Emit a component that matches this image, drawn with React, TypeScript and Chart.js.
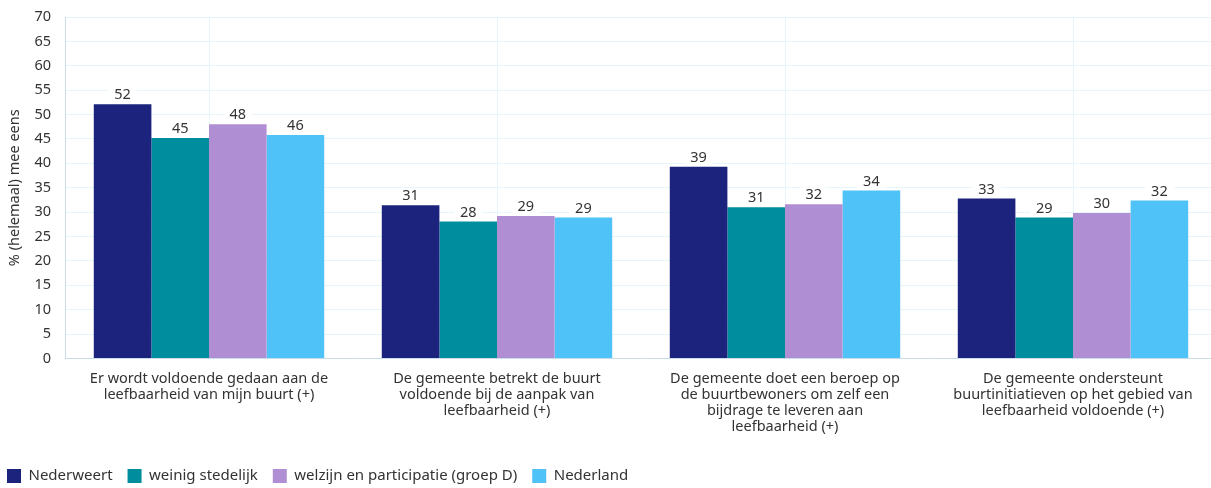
import React, { useEffect, useRef } from "react";
import { Chart, registerables } from "chart.js";

Chart.register(...registerables);

const categories: string[][] = [
  ["Er wordt voldoende gedaan aan de", "leefbaarheid van mijn buurt (+)"],
  ["De gemeente betrekt de buurt", "voldoende bij de aanpak van", "leefbaarheid (+)"],
  ["De gemeente doet een beroep op", "de buurtbewoners om zelf een", "bijdrage te leveren aan", "leefbaarheid (+)"],
  ["De gemeente ondersteunt", "buurtinitiatieven op het gebied van", "leefbaarheid voldoende (+)"],
];

const seriesNames = ["Nederweert", "weinig stedelijk", "welzijn en participatie (groep D)", "Nederland"];
const nederweert = [52.1, 31.4, 39.3, 32.8];
const weinigStedelijk = [45.2, 28.1, 31.0, 28.9];
const welzijn = [48.0, 29.2, 31.6, 29.8];
const nederland = [45.8, 28.9, 34.45, 32.4];
const colors = ["#1b237d", "#008d9e", "#b08ed3", "#4fc3f7"];

const yTitle = "% (helemaal) mee eens";
const FONT = "'Noto Sans', sans-serif";
const FS = 14.5;

const labelPlugin = {
  id: "barLabels",
  afterDatasetsDraw(chart: any) {
    const ctx = chart.ctx;
    ctx.save();
    ctx.font = `${FS}px ${FONT}`;
    ctx.textAlign = "center";
    ctx.textBaseline = "middle";
    chart.data.datasets.forEach((ds: any, i: number) => {
      const meta = chart.getDatasetMeta(i);
      meta.data.forEach((bar: any, j: number) => {
        const txt = String(Math.round(ds.data[j]));
        const w = ctx.measureText(txt).width + 12;
        const cy = bar.y - 9;
        ctx.fillStyle = "#ffffff";
        ctx.fillRect(bar.x - w / 2, cy - 8, w, 16);
        ctx.fillStyle = "#333333";
        ctx.fillText(txt, bar.x, cy);
      });
    });
    ctx.restore();
  },
};

export default function App() {
  const ref = useRef<HTMLCanvasElement>(null);
  useEffect(() => {
    document.body.style.margin = "0";
    const chart = new Chart(ref.current!, {
      type: "bar",
      data: {
        labels: categories,
        datasets: [nederweert, weinigStedelijk, welzijn, nederland].map((d, i) => ({
          label: seriesNames[i],
          data: d,
          backgroundColor: colors[i],
          borderWidth: 0,
          barPercentage: 1,
          categoryPercentage: 0.8,
        })),
      },
      options: {
        animation: false,
        responsive: true,
        maintainAspectRatio: false,
        layout: { padding: { top: 17, right: 0, bottom: -5.5, left: -8 } },
        plugins: {
          tooltip: { enabled: false },
          legend: {
            position: "bottom",
            align: "start",
            labels: {
              boxWidth: 14,
              boxHeight: 14,
              padding: 15,
              color: "#333",
              font: { size: 15, family: FONT },
            },
          },
        },
        scales: {
          x: {
            grid: { offset: false, color: "#e6f5fb", drawTicks: false },
            border: { color: "#c8dde8" },
            ticks: {
              color: "#333",
              font: { size: FS, family: FONT, lineHeight: 1.12 },
              maxRotation: 0,
              autoSkip: false,
              padding: 12,
            },
            afterFit: (s: any) => {
              s.height = 95;
              s.paddingLeft = 0;
              s.paddingRight = 0;
            },
          },
          y: {
            min: 0,
            max: 70,
            grid: { color: "#e6f5fb", drawTicks: false },
            border: { color: "#c8dde8" },
            ticks: {
              stepSize: 5,
              color: "#333",
              font: { size: FS, family: FONT },
              padding: 14,
            },
            title: {
              display: true,
              text: yTitle,
              color: "#333",
              font: { size: FS, family: FONT },
              padding: { top: 14, bottom: 0 },
            },
            afterFit: (s: any) => {
              s.width = 73;
              s.paddingTop = 0;
              s.paddingBottom = 0;
            },
          },
        },
      },
      plugins: [labelPlugin],
    });
    return () => chart.destroy();
  }, []);
  return (
    <div style={{ width: 1211, height: 488, overflow: "hidden" }}>
      <div style={{ width: 1217, height: 488, position: "relative" }}>
        <canvas ref={ref} />
      </div>
    </div>
  );
}
